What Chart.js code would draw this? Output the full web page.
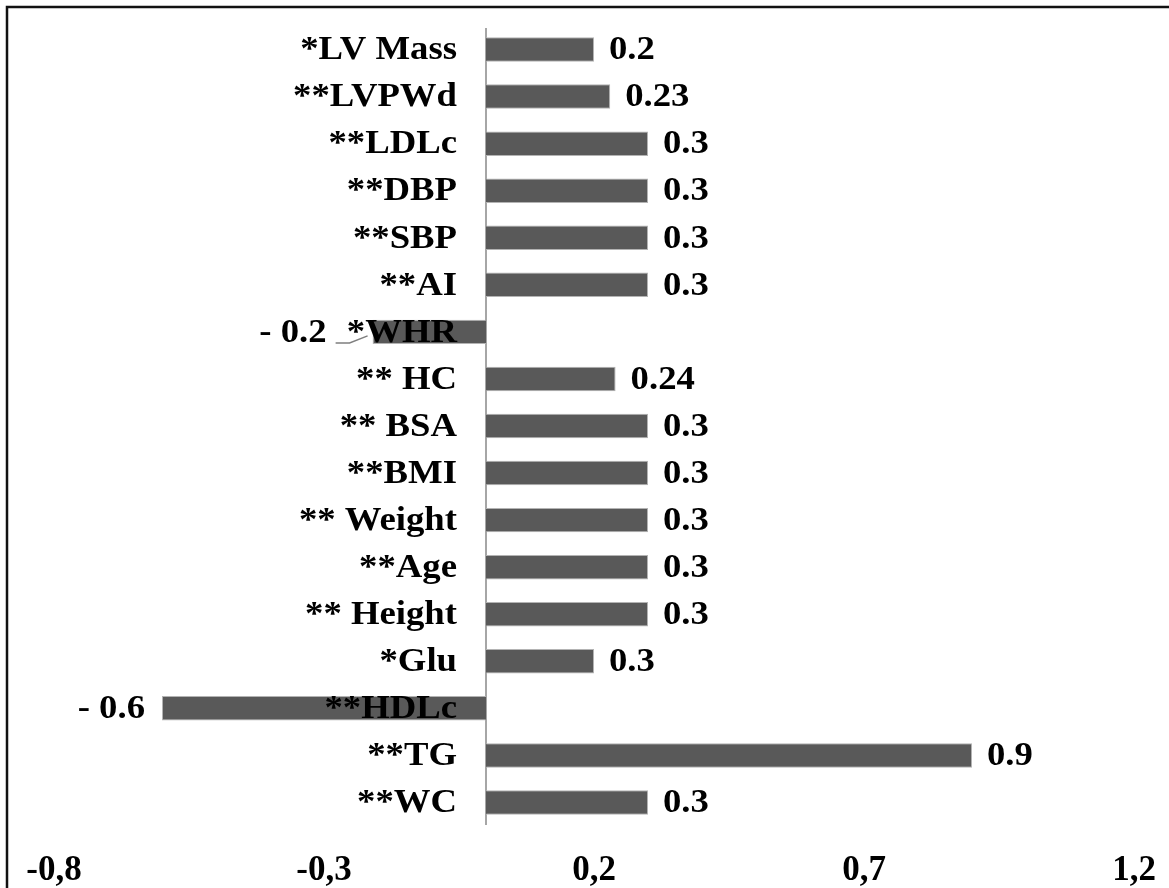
<!DOCTYPE html>
<html>
<head>
<meta charset="utf-8">
<script src="https://cdn.jsdelivr.net/npm/chart.js@4"></script>
<style>
  html, body { margin: 0; padding: 0; background: #fff; }
  #wrap { width: 1169px; height: 888px; }
</style>
</head>
<body>
<div id="wrap"><canvas id="bars"></canvas></div>
<script>
const categories = ["*LV Mass", "**LVPWd", "**LDLc", "**DBP", "**SBP", "**AI", "*WHR", "** HC",
	"** BSA", "**BMI", "** Weight", "**Age", "** Height", "*Glu", "**HDLc", "**TG", "**WC"];
const values = [0.2, 0.23, 0.3, 0.3, 0.3, 0.3, -0.21, 0.24, 0.3, 0.3, 0.3, 0.3, 0.3, 0.2, -0.6, 0.9, 0.3];
const valueLabels = ["0.2", "0.23", "0.3", "0.3", "0.3", "0.3", "- 0.2", "0.24", "0.3", "0.3", "0.3",
	"0.3", "0.3", "0.3", "- 0.6", "0.9", "0.3"];
const xTicks = [-0.8, -0.3, 0.2, 0.7, 1.2];

const FAMILY = "'Liberation Serif', 'Times New Roman', serif";
const FONT = "bold 34px " + FAMILY;
const STRETCH = 1.08; // the source text is a little wider than Liberation Serif
const callout = categories.indexOf("*WHR");

function drawText(ctx, text, x, y, align) {
	ctx.save();
	ctx.translate(x, y);
	ctx.scale(STRETCH, 1);
	ctx.textAlign = align;
	ctx.fillText(text, 0, 0);
	ctx.restore();
}

const annotate = {
	id: "annotate",
	beforeDraw(chart) {
		const { ctx, width, height } = chart;
		ctx.save();
		ctx.fillStyle = "#fff";
		ctx.fillRect(0, 0, width, height);
		// frame (only top and left edges are visible in the picture)
		ctx.strokeStyle = "#111";
		ctx.lineWidth = 2.5;
		ctx.beginPath();
		ctx.moveTo(7, height);
		ctx.lineTo(7, 7);
		ctx.lineTo(width, 7);
		ctx.stroke();
		ctx.restore();
	},
	beforeDatasetsDraw(chart) {
		const { ctx, chartArea, scales: { x } } = chart;
		const x0 = x.getPixelForValue(0);
		ctx.save();
		ctx.strokeStyle = "#a6a6a6";
		ctx.lineWidth = 2;
		ctx.beginPath();
		ctx.moveTo(x0, chartArea.top + 2);
		ctx.lineTo(x0, chartArea.bottom - 1);
		ctx.stroke();
		ctx.restore();
	},
	afterDatasetsDraw(chart) {
		const { ctx, scales: { x, y } } = chart;
		const x0 = x.getPixelForValue(0);
		ctx.save();
		ctx.font = FONT;
		ctx.fillStyle = "#000";
		ctx.textBaseline = "middle";

		categories.forEach((c, i) => {
			drawText(ctx, c, x0 - 29, y.getPixelForValue(i) + 1, "right");
		});

		values.forEach((v, i) => {
			const yy = y.getPixelForValue(i) + 1;
			const end = x.getPixelForValue(v);
			if (v >= 0) {
				drawText(ctx, valueLabels[i], end + 15, yy, "left");
			} else if (i === callout) {
				const tx = end - 46;
				drawText(ctx, valueLabels[i], tx, yy, "right");
				ctx.strokeStyle = "#7f7f7f";
				ctx.lineWidth = 1.5;
				ctx.beginPath();
				ctx.moveTo(tx + 9, yy + 10);
				ctx.lineTo(tx + 23, yy + 10);
				ctx.lineTo(end - 5, yy + 3);
				ctx.stroke();
			} else {
				drawText(ctx, valueLabels[i], end - 17, yy, "right");
			}
		});
		ctx.restore();
	},
};

new Chart(document.getElementById("bars"), {
	type: "bar",
	data: {
		labels: categories,
		datasets: [
			{
				data: values,
				backgroundColor: "#595959",
				borderColor: "#b3b3b3",
				borderWidth: 1,
				categoryPercentage: 0.52,
				barPercentage: 1,
			},
		],
	},
	options: {
		indexAxis: "y",
		responsive: true,
		maintainAspectRatio: false,
		animation: false,
		layout: { padding: { left: 54, right: 35, top: 26, bottom: 0 } },
		scales: {
			x: {
				min: -0.8,
				max: 1.2,
				afterBuildTicks: (scale) => {
					scale.ticks = xTicks.map((v) => ({ value: v }));
				},
				afterFit: (scale) => {
					scale.height = 62;
					scale.paddingLeft = 0;
					scale.paddingRight = 0;
				},
				grid: { display: false },
				border: { display: false },
				ticks: {
					color: "#000",
					padding: 16,
					maxRotation: 0,
					font: { family: FAMILY, size: 35, weight: "bold" },
					callback: (v) => v.toFixed(1).replace(".", ","),
				},
			},
			y: {
				display: false,
			},
		},
		plugins: {
			legend: { display: false },
			tooltip: { enabled: false },
		},
	},
	plugins: [annotate],
});
</script>
</body>
</html>
